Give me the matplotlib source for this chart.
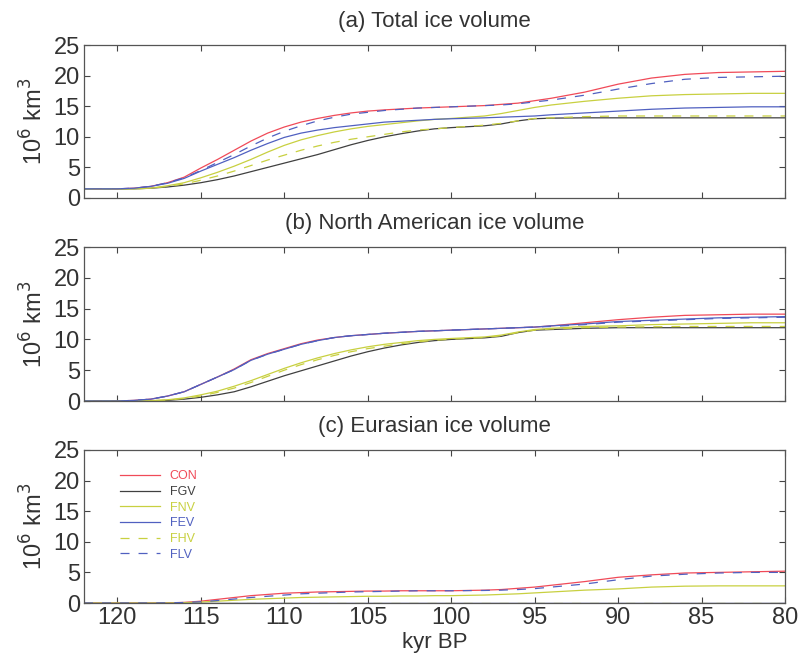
import numpy as np
import matplotlib
matplotlib.use("Agg")
import matplotlib.pyplot as plt

plt.rcParams['font.family'] = ['Liberation Sans', 'DejaVu Sans']
plt.rcParams['lines.scale_dashes'] = False

# time axis (kyr BP)
kyr = [122, 120, 119, 118, 117, 116, 115, 114, 113, 112, 111, 110, 109, 108,
       107, 106, 105, 104, 103, 102, 101, 100, 98, 97, 96, 95, 94,
       92, 90, 88, 86, 84, 82, 80]

# (a) total ice volume, 10^6 km^3
tot_CON = [1.5, 1.5, 1.6, 1.9, 2.5, 3.4, 4.9, 6.3, 7.8, 9.3, 10.6, 11.6, 12.4, 13.0,
           13.5, 13.9, 14.2, 14.4, 14.55, 14.7, 14.8, 14.9, 15.1, 15.3, 15.5, 15.9, 16.3,
           17.3, 18.6, 19.6, 20.2, 20.5, 20.6, 20.7]
tot_FGV = [1.5, 1.5, 1.5, 1.6, 1.8, 2.1, 2.5, 3.0, 3.6, 4.3, 5.0, 5.7, 6.4, 7.1,
           7.9, 8.7, 9.4, 10.0, 10.5, 10.95, 11.3, 11.5, 11.8, 12.1, 12.6, 12.95, 13.05,
           13.1, 13.1, 13.1, 13.1, 13.1, 13.1, 13.1]
tot_FNV = [1.5, 1.5, 1.5, 1.6, 2.0, 2.5, 3.3, 4.2, 5.2, 6.3, 7.5, 8.6, 9.5, 10.2,
           10.8, 11.3, 11.7, 12.0, 12.3, 12.6, 12.85, 13.0, 13.4, 13.8, 14.3, 14.8, 15.2,
           15.8, 16.3, 16.7, 16.9, 17.0, 17.1, 17.1]
tot_FEV = [1.5, 1.5, 1.6, 1.9, 2.4, 3.2, 4.4, 5.5, 6.6, 7.8, 8.9, 9.9, 10.6, 11.1,
           11.5, 11.8, 12.1, 12.4, 12.55, 12.7, 12.85, 12.95, 13.1, 13.2, 13.3, 13.4, 13.6,
           13.9, 14.2, 14.5, 14.7, 14.8, 14.9, 14.9]
tot_FHV = [1.5, 1.5, 1.5, 1.6, 1.9, 2.3, 2.9, 3.6, 4.4, 5.3, 6.2, 7.0, 7.8, 8.5,
           9.1, 9.6, 10.0, 10.4, 10.8, 11.1, 11.3, 11.5, 11.9, 12.2, 12.6, 13.0, 13.1,
           13.3, 13.4, 13.4, 13.4, 13.4, 13.4, 13.4]
tot_FLV = [1.5, 1.5, 1.6, 1.9, 2.5, 3.3, 4.5, 5.8, 7.1, 8.5, 9.8, 10.9, 11.8, 12.6,
           13.2, 13.7, 14.0, 14.3, 14.5, 14.7, 14.8, 14.9, 15.1, 15.2, 15.4, 15.7, 16.0,
           16.8, 17.8, 18.7, 19.4, 19.7, 19.8, 19.9]

# (b) North American ice volume
na_CON = [0, 0, 0.1, 0.3, 0.8, 1.5, 2.7, 3.9, 5.2, 6.7, 7.7, 8.5, 9.3, 9.9,
          10.3, 10.6, 10.8, 11.0, 11.15, 11.3, 11.4, 11.5, 11.7, 11.8, 11.9, 12.0, 12.2,
          12.7, 13.2, 13.6, 13.9, 14.0, 14.1, 14.1]
na_FGV = [0, 0, 0, 0, 0.1, 0.3, 0.6, 1.0, 1.5, 2.3, 3.2, 4.1, 4.9, 5.7,
          6.5, 7.3, 8.0, 8.6, 9.1, 9.5, 9.8, 10.0, 10.25, 10.5, 11.1, 11.5, 11.6,
          11.8, 11.9, 11.9, 11.9, 11.9, 11.9, 11.9]
na_FNV = [0, 0, 0, 0.05, 0.2, 0.5, 1.0, 1.6, 2.4, 3.3, 4.3, 5.3, 6.2, 7.0,
          7.7, 8.3, 8.8, 9.2, 9.5, 9.8, 10.0, 10.15, 10.4, 10.7, 11.2, 11.6, 11.8,
          12.1, 12.2, 12.4, 12.5, 12.6, 12.7, 12.7]
na_FEV = [0, 0, 0.1, 0.3, 0.8, 1.5, 2.7, 3.9, 5.1, 6.6, 7.6, 8.4, 9.2, 9.8,
          10.3, 10.6, 10.8, 11.0, 11.15, 11.3, 11.4, 11.5, 11.7, 11.8, 11.9, 12.0, 12.2,
          12.5, 12.9, 13.1, 13.3, 13.5, 13.6, 13.7]
na_FHV = [0, 0, 0, 0.05, 0.15, 0.4, 0.8, 1.4, 2.1, 3.0, 4.0, 5.0, 5.9, 6.7,
          7.4, 8.0, 8.5, 8.9, 9.3, 9.6, 9.85, 10.05, 10.3, 10.6, 11.1, 11.5, 11.7,
          11.9, 12.0, 12.05, 12.1, 12.1, 12.1, 12.1]
na_FLV = [0, 0, 0.1, 0.3, 0.8, 1.5, 2.7, 3.9, 5.1, 6.6, 7.6, 8.4, 9.2, 9.8,
          10.3, 10.6, 10.8, 11.0, 11.15, 11.3, 11.4, 11.5, 11.7, 11.8, 11.9, 12.0, 12.1,
          12.4, 12.8, 13.0, 13.2, 13.4, 13.5, 13.6]

# (c) Eurasian ice volume
eu_CON = [0, 0, 0, 0, 0.02, 0.1, 0.3, 0.6, 0.9, 1.2, 1.4, 1.6, 1.7, 1.8,
          1.85, 1.9, 1.95, 1.95, 2.0, 2.0, 2.0, 2.0, 2.1, 2.2, 2.4, 2.6, 2.9,
          3.5, 4.2, 4.6, 4.9, 5.0, 5.1, 5.2]
eu_FGV = [0] * len(kyr)
eu_FNV = [0, 0, 0, 0, 0.01, 0.05, 0.15, 0.3, 0.45, 0.6, 0.7, 0.8, 0.9, 0.95,
          1.0, 1.05, 1.1, 1.1, 1.15, 1.15, 1.2, 1.2, 1.3, 1.4, 1.5, 1.65, 1.8,
          2.1, 2.3, 2.6, 2.75, 2.8, 2.8, 2.8]
eu_FEV = [0] * len(kyr)
eu_FHV = [0] * len(kyr)
eu_FLV = [0, 0, 0, 0, 0.02, 0.08, 0.2, 0.4, 0.65, 0.9, 1.1, 1.3, 1.5, 1.6,
          1.7, 1.8, 1.85, 1.9, 1.95, 2.0, 2.0, 2.0, 2.05, 2.1, 2.2, 2.35, 2.6,
          3.1, 3.8, 4.4, 4.7, 4.9, 5.0, 5.0]

names = ['CON', 'FGV', 'FNV', 'FEV', 'FHV', 'FLV']
colors = ['#f04a58', '#404040', '#c8d040', '#5060c0', '#c8d040', '#5060c0']
styles = ['-', '-', '-', '-', '--', '--']

panels = [
    ('(a) Total ice volume', [tot_CON, tot_FGV, tot_FNV, tot_FEV, tot_FHV, tot_FLV]),
    ('(b) North American ice volume', [na_CON, na_FGV, na_FNV, na_FEV, na_FHV, na_FLV]),
    ('(c) Eurasian ice volume', [eu_CON, eu_FGV, eu_FNV, eu_FEV, eu_FHV, eu_FLV]),
]

W, H = 802, 664
fig = plt.figure(figsize=(W / 100, H / 100), dpi=100)
# axes boxes in pixels: left, top, right, bottom
boxes = [(84, 45, 785, 198), (84, 247, 785, 401), (84, 450, 785, 603)]
txt = '#333333'

for i, ((title, series), (l, t, r, b)) in enumerate(zip(panels, boxes)):
    ax = fig.add_axes([l / W, 1 - b / H, (r - l) / W, (b - t) / H])
    for vals, name, c, ls in zip(series, names, colors, styles):
        line, = ax.plot(kyr, vals, color=c, lw=0.9, label=name)
        if ls == '--':
            line.set_dashes((6.5, 6.5))
    ax.set_xlim(122, 80)
    ax.set_ylim(0, 25)
    ax.set_xticks([120, 115, 110, 105, 100, 95, 90, 85, 80])
    ax.set_yticks([0, 5, 10, 15, 20, 25])
    ax.tick_params(direction='in', length=4, width=0.8, top=True, right=True,
                   labelsize=17, colors='#444444', labelcolor=txt, pad=3)
    for sp in ax.spines.values():
        sp.set_color('#555555')
        sp.set_linewidth(0.9)
    ax.set_ylabel(r'10$^6$ km$^3$', fontsize=17, color=txt, labelpad=4)
    ax.set_title(title, fontsize=16, color=txt, pad=13)
    if i < 2:
        ax.set_xticklabels([])
    else:
        ax.set_xlabel('kyr BP', fontsize=16, color=txt, labelpad=2)
        leg = ax.legend(loc='upper left', bbox_to_anchor=(0.035, 0.94),
                        frameon=False, fontsize=9, handlelength=3.2,
                        labelspacing=0.29, handletextpad=0.8,
                        labelcolor='linecolor')

fig.savefig('out.png', dpi=100)
